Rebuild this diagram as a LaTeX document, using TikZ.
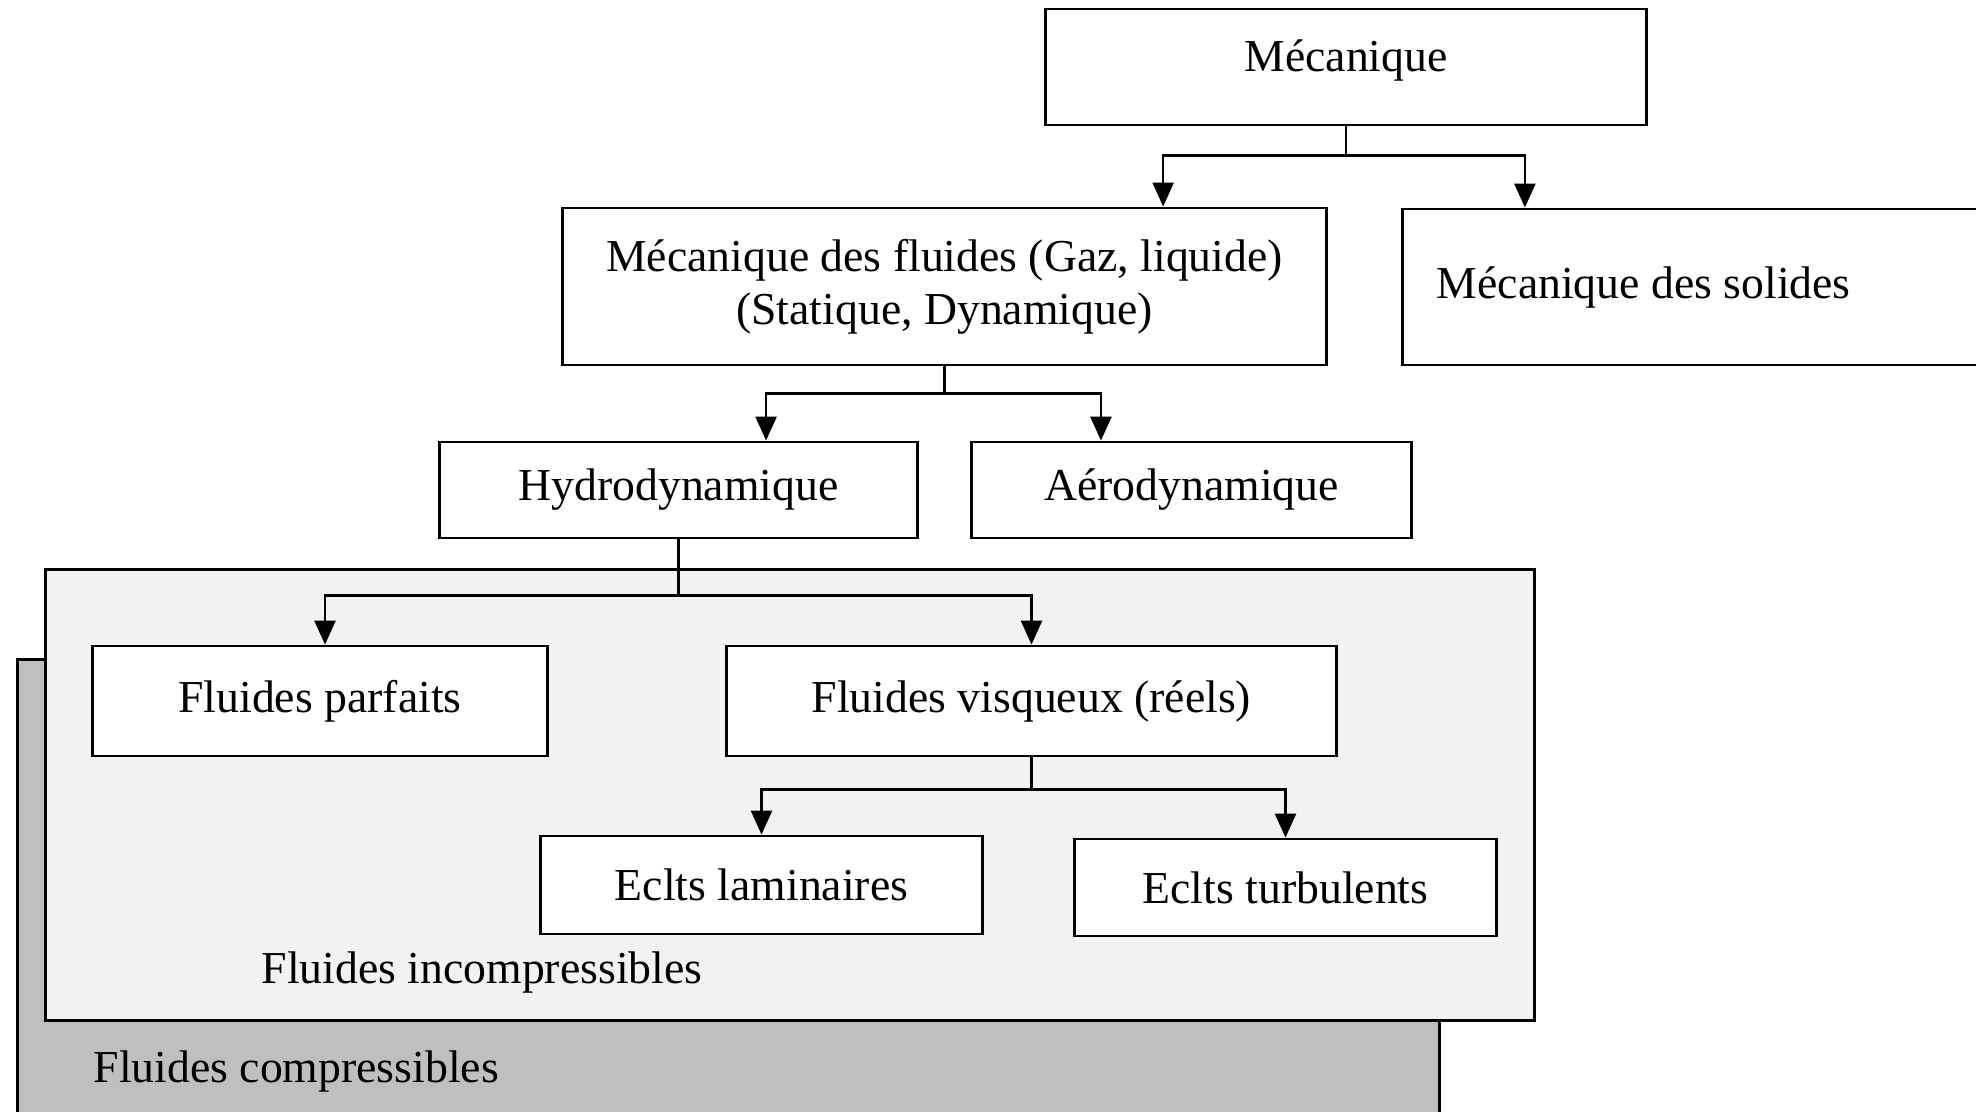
\documentclass[tikz,border=0pt]{standalone}
\usepackage{fontspec}
\setmainfont{Liberation Serif}
\usetikzlibrary{arrows.meta}

\tikzset{
    boite/.style={draw, line width=0.8pt, fill=white, inner sep=0pt},
    panneau/.style={draw, line width=0.8pt, inner sep=0pt, anchor=north west},
    etiquette/.style={anchor=west, inner sep=0pt},
    fleche/.style={line width=0.7pt, -{Triangle[length=2.4mm,width=2.1mm]}},
}

\begin{document}
\begin{tikzpicture}[x=0.01cm, y=-0.01cm, font=\fontsize{13}{15}\selectfont]
        \useasboundingbox (0,0) rectangle (1976,1111);

        % fonds
        \node[panneau, fill=black!25, minimum width=14.21cm, minimum height=4.7cm] (comp) at (16,658) {};
        \node[panneau, fill=black!5, minimum width=14.88cm, minimum height=4.51cm] (incomp) at (44,568) {};
        \node[etiquette] (lcomp) at (93,1071) {Fluides compressibles};
        \node[etiquette] (lincomp) at (261,972) {Fluides incompressibles};

        % boites
        \node[boite, minimum width=6cm, minimum height=1.16cm, text depth=0.22cm] (meca) at (1346,67) {Mécanique};
        \node[boite, minimum width=7.63cm, minimum height=1.57cm, align=center] (fluid) at (944.5,286.5) {Mécanique des fluides (Gaz, liquide)\\(Statique, Dynamique)};
        \node[boite, text width=5.32cm, inner xsep=0.34cm, minimum height=1.56cm, align=flush left] (solid) at (1703,287) {Mécanique des solides};
        \node[boite, minimum width=4.77cm, minimum height=0.96cm] (hydro) at (678.5,490) {Hydrodynamique};
        \node[boite, minimum width=4.39cm, minimum height=0.96cm] (aero) at (1191.5,490) {Aérodynamique};
        \node[boite, minimum width=4.54cm, minimum height=1.10cm] (parf) at (320,701) {Fluides parfaits};
        \node[boite, minimum width=6.09cm, minimum height=1.10cm] (visq) at (1031.5,701) {Fluides visqueux (réels)};
        \node[boite, minimum width=4.41cm, minimum height=0.98cm] (lam) at (761.5,885) {Eclts laminaires};
        \node[boite, minimum width=4.21cm, minimum height=0.97cm] (turb) at (1285.5,887.5) {Eclts turbulents};

        % fleches
        \draw[fleche] (meca.south) -- ++(0,29) -| ([xshift=2.185cm]fluid.north);
        \draw[fleche] (meca.south) -- ++(0,29) -| ([xshift=-1.78cm]solid.north);
        \draw[fleche] (fluid.south) -- ++(0,27) -| ([xshift=0.875cm]hydro.north);
        \draw[fleche] (fluid.south) -- ++(0,27) -| ([xshift=-0.905cm]aero.north);
        \draw[fleche] (hydro.south) -- ++(0,56) -| ([xshift=0.05cm]parf.north);
        \draw[fleche] (hydro.south) -- ++(0,56) -| (visq.north);
        \draw[fleche] (visq.south) -- ++(0,32) -| (lam.north);
        \draw[fleche] (visq.south) -- ++(0,32) -| (turb.north);

    \end{tikzpicture}
\end{document}
